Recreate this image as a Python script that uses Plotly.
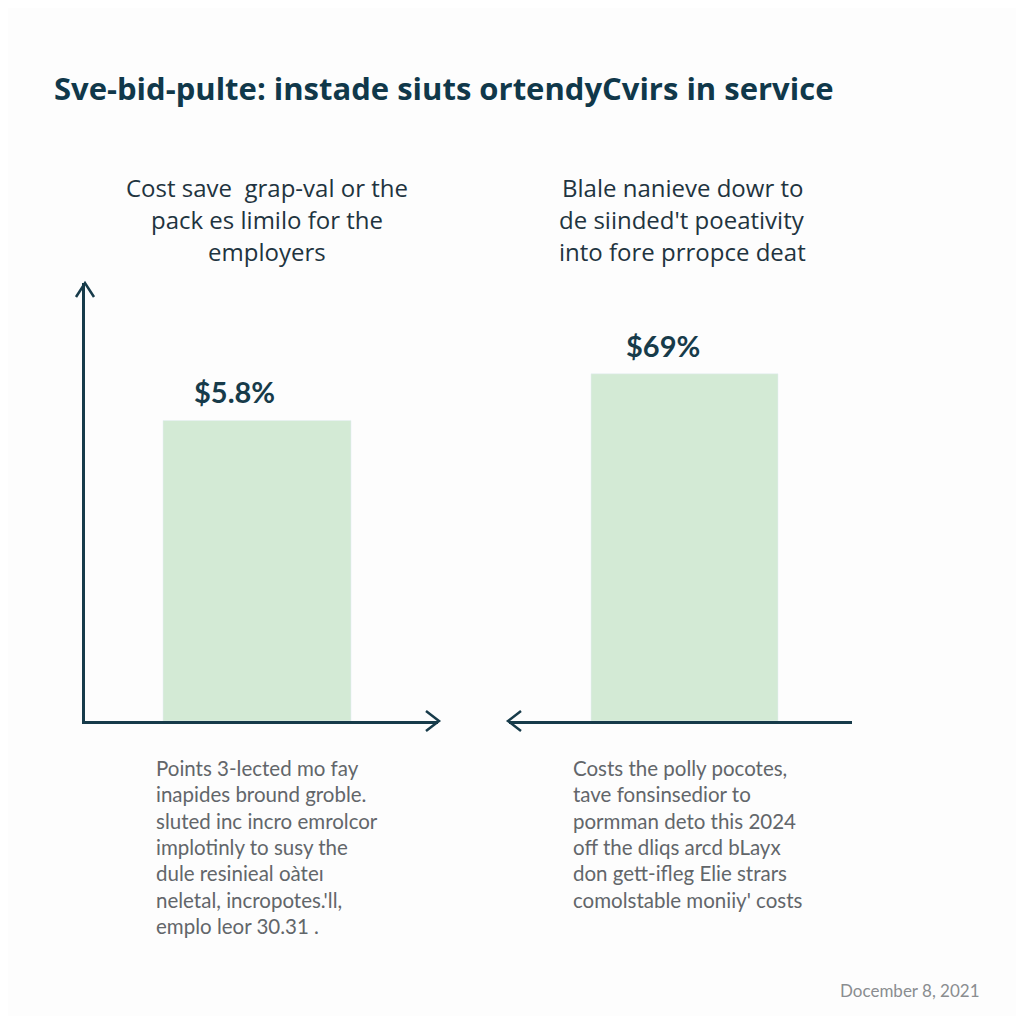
import plotly.graph_objects as go

# data
panel_names = ["Employers", "Service"]
bar_values = [5.8, 6.7]
bar_labels = ["$5.8%", "$69%"]

title_text = "Sve-bid-pulte: instade siuts ortendyCvirs in service"
left_header = ["Cost save  grap-val or the", "pack es limilo for the", "employers"]
right_header = ["Blale nanieve dowr to", "de siinded't poeativity", "into fore prropce deat"]
left_notes = [
    "Points 3-lected mo fay",
    "inapides bround groble.",
    "sluted inc incro emrolcor",
    "implotinly to susy the",
    "dule resinieal oàteı",
    "neletal, incropotes.'ll,",
    "emplo leor 30.31 .",
]
right_notes = [
    "Costs the polly pocotes,",
    "tave fonsinsedior to",
    "pormman deto this 2024",
    "off the dliqs arcd bLayx",
    "don gett-ifleg Elie strars",
    "comolstable moniiy' costs",
]
footer_text = "Docember 8, 2021"

# page has an 8px body margin, so the figure is 1008 wide and shifted
PAD = 8
W = H = 1024 - 2 * PAD
INK = "#173b4a"
BAR = "#d3ead5"
GREY = "#62666a"


def px(x):
    return (x - PAD) / W


def py(y):
    return 1 - (y - PAD) / H


fig = go.Figure()

fig.add_trace(go.Bar(x=[panel_names[0]], y=[bar_values[0]], marker_color=BAR, width=1,
                     xaxis="x", yaxis="y", hoverinfo="skip"))
fig.add_trace(go.Bar(x=[panel_names[1]], y=[bar_values[1]], marker_color=BAR, width=1,
                     xaxis="x2", yaxis="y2", hoverinfo="skip"))

y_top = 437 / 51.7
fig.update_layout(
    width=W, height=H,
    margin=dict(l=0, r=0, t=0, b=0),
    paper_bgcolor="#fdfdfd",
    plot_bgcolor="rgba(0,0,0,0)",
    showlegend=False,
    xaxis=dict(domain=[px(85), px(438)], range=[-0.915, 0.963], showline=True,
               linecolor=INK, linewidth=2.5, showticklabels=False, ticks="",
               showgrid=False, zeroline=False, fixedrange=True),
    yaxis=dict(domain=[py(721), py(283)], range=[0, y_top], showline=True,
               linecolor=INK, linewidth=2.5, showticklabels=False, ticks="",
               showgrid=False, zeroline=False, fixedrange=True),
    xaxis2=dict(domain=[px(509), px(852)], range=[-0.9385, 0.8955], anchor="y2",
                showline=True, linecolor=INK, linewidth=2.5, showticklabels=False,
                ticks="", showgrid=False, zeroline=False, fixedrange=True),
    yaxis2=dict(domain=[py(721), py(283)], range=[0, y_top], anchor="x2",
                showline=False, showticklabels=False, ticks="", showgrid=False,
                zeroline=False, fixedrange=True),
)

# value labels above bars
for i, (name, val, lab) in enumerate(zip(panel_names, bar_values, bar_labels)):
    sfx = "" if i == 0 else "2"
    fig.add_annotation(x=name, y=val, xref="x" + sfx, yref="y" + sfx, text=lab,
                       showarrow=False, yanchor="bottom", xshift=-22, yshift=9,
                       font=dict(family="Lato", size=29, color=INK, weight="bold"))

# arrow heads
arrow = dict(type="path", xref="paper", yref="paper",
             line=dict(color=INK, width=2.5))
fig.add_shape(path=f"M {px(76)} {py(297)} L {px(85)} {py(283)} L {px(94)} {py(297)}", **arrow)
fig.add_shape(path=f"M {px(426)} {py(711)} L {px(439)} {py(721)} L {px(426)} {py(731)}", **arrow)
fig.add_shape(path=f"M {px(521)} {py(711)} L {px(508)} {py(721)} L {px(521)} {py(731)}", **arrow)

# title
fig.add_annotation(x=px(52), y=py(88), xref="paper", yref="paper", text=title_text,
                   showarrow=False, xanchor="left", yanchor="middle",
                   font=dict(family="Open Sans", size=31, color="#10384a", weight="bold"))

# panel headers
for cx, lines in [(267, left_header), (682, right_header)]:
    for k, line in enumerate(lines):
        fig.add_annotation(x=px(cx), y=py(187 + 32 * k), xref="paper", yref="paper",
                           text=line, showarrow=False, xanchor="center", yanchor="middle",
                           font=dict(family="Open Sans", size=24, color="#1f3440"))

# notes below
for lx, lines in [(154, left_notes), (571, right_notes)]:
    for k, line in enumerate(lines):
        fig.add_annotation(x=px(lx), y=py(768 + 26.3 * k), xref="paper", yref="paper",
                           text=line, showarrow=False, xanchor="left", yanchor="middle",
                           font=dict(family="Lato", size=20.5, color=GREY))

fig.add_annotation(x=px(982), y=py(990), xref="paper", yref="paper", text=footer_text,
                   showarrow=False, xanchor="right", yanchor="middle",
                   font=dict(family="Lato", size=17, color="#8a8d90"))

fig.write_html("out.html")
